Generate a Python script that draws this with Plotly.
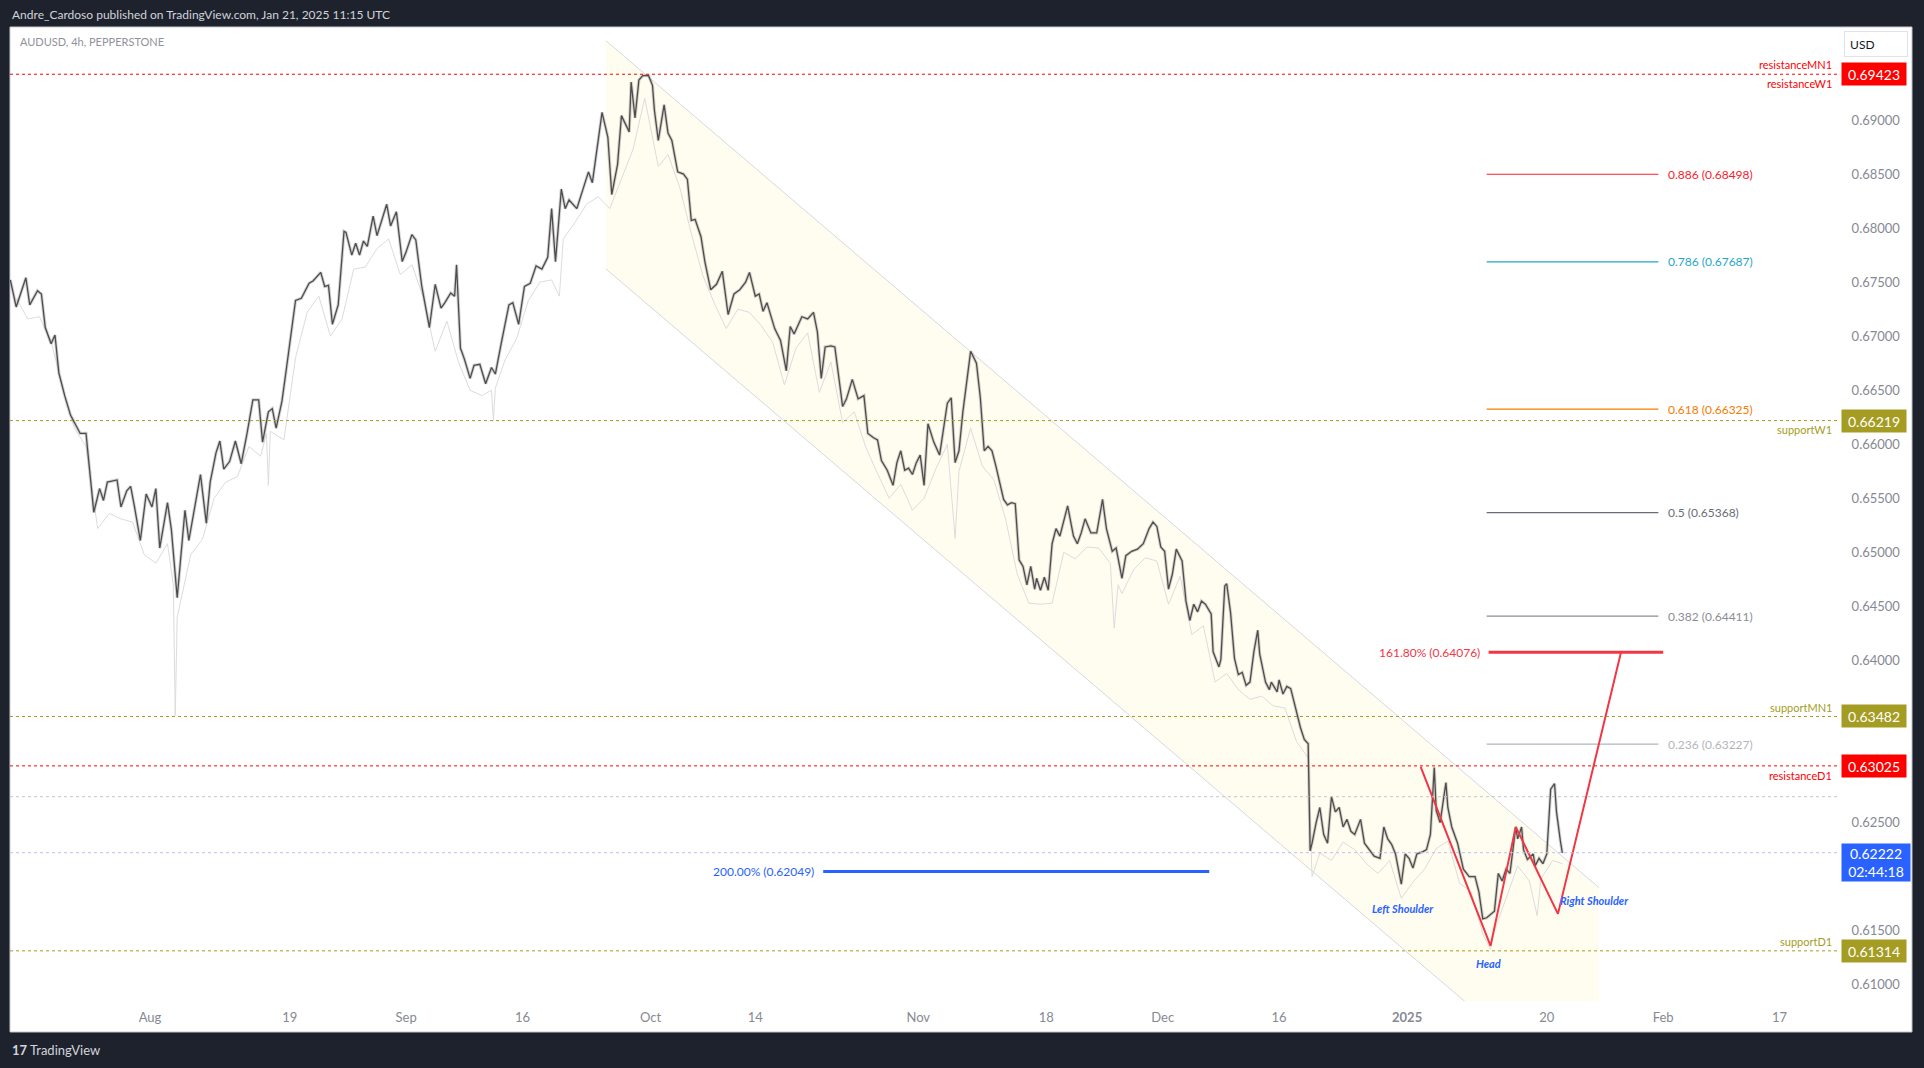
import plotly.graph_objects as go

# ---------------- data ----------------
hl_time = [
"2024-07-16 00:00","2024-07-16 12:00","2024-07-17 08:00","2024-07-17 16:00","2024-07-18 08:00","2024-07-18 16:00",
"2024-07-19 00:00","2024-07-19 12:00","2024-07-19 20:00","2024-07-22 04:00","2024-07-22 16:00","2024-07-23 04:00",
"2024-07-24 00:00","2024-07-24 12:00","2024-07-25 04:00","2024-07-25 16:00","2024-07-26 00:00","2024-07-26 08:00",
"2024-07-29 04:00","2024-07-29 12:00","2024-07-30 00:00","2024-07-30 08:00","2024-07-30 16:00","2024-07-31 04:00",
"2024-07-31 16:00","2024-08-01 04:00","2024-08-01 12:00","2024-08-01 20:00","2024-08-02 12:00","2024-08-02 20:00",
"2024-08-05 08:00","2024-08-06 00:00","2024-08-06 08:00","2024-08-06 20:00","2024-08-07 08:00","2024-08-07 20:00",
"2024-08-08 04:00","2024-08-08 16:00","2024-08-09 00:00","2024-08-09 08:00","2024-08-09 20:00","2024-08-12 08:00",
"2024-08-12 20:00","2024-08-13 08:00","2024-08-13 20:00","2024-08-14 08:00","2024-08-14 16:00","2024-08-15 04:00",
"2024-08-15 12:00","2024-08-15 20:00","2024-08-16 08:00","2024-08-16 16:00","2024-08-19 00:00","2024-08-19 12:00",
"2024-08-20 00:00","2024-08-20 16:00","2024-08-21 00:00","2024-08-21 16:00","2024-08-22 00:00","2024-08-22 08:00",
"2024-08-22 16:00","2024-08-23 04:00","2024-08-23 16:00","2024-08-23 20:00","2024-08-26 08:00","2024-08-26 16:00",
"2024-08-27 00:00","2024-08-27 08:00","2024-08-27 16:00","2024-08-28 04:00","2024-08-28 12:00","2024-08-28 20:00",
"2024-08-29 08:00","2024-08-29 16:00","2024-08-30 04:00","2024-08-30 16:00","2024-09-02 00:00","2024-09-02 12:00",
"2024-09-02 20:00","2024-09-03 08:00","2024-09-04 00:00","2024-09-04 12:00","2024-09-05 00:00","2024-09-05 08:00",
"2024-09-05 20:00","2024-09-06 04:00","2024-09-06 08:00","2024-09-06 16:00","2024-09-09 00:00","2024-09-09 12:00",
"2024-09-09 20:00","2024-09-10 08:00","2024-09-10 20:00","2024-09-11 08:00","2024-09-11 16:00","2024-09-12 04:00",
"2024-09-12 20:00","2024-09-13 04:00","2024-09-13 16:00","2024-09-16 04:00","2024-09-16 16:00","2024-09-17 04:00",
"2024-09-17 16:00","2024-09-18 04:00","2024-09-18 12:00","2024-09-18 20:00","2024-09-19 08:00","2024-09-19 16:00",
"2024-09-20 00:00","2024-09-20 16:00","2024-09-23 04:00","2024-09-23 16:00","2024-09-24 00:00","2024-09-24 08:00",
"2024-09-24 20:00","2024-09-25 08:00","2024-09-25 16:00","2024-09-26 04:00","2024-09-26 12:00","2024-09-27 04:00",
"2024-09-27 08:00","2024-09-27 16:00","2024-09-30 00:00","2024-09-30 08:00","2024-09-30 20:00","2024-10-01 04:00",
"2024-10-01 08:00","2024-10-01 16:00","2024-10-02 04:00","2024-10-02 12:00","2024-10-02 20:00","2024-10-03 08:00",
"2024-10-03 20:00","2024-10-04 04:00","2024-10-04 12:00","2024-10-04 20:00","2024-10-07 08:00","2024-10-07 16:00",
"2024-10-08 04:00","2024-10-08 16:00","2024-10-09 04:00","2024-10-09 16:00","2024-10-10 04:00","2024-10-10 16:00",
"2024-10-11 04:00","2024-10-11 12:00","2024-10-14 00:00","2024-10-14 08:00","2024-10-14 16:00","2024-10-15 00:00",
"2024-10-15 16:00","2024-10-16 04:00","2024-10-16 16:00","2024-10-17 00:00","2024-10-17 08:00","2024-10-18 00:00",
"2024-10-18 12:00","2024-10-21 00:00","2024-10-21 08:00","2024-10-21 16:00","2024-10-22 00:00","2024-10-22 12:00",
"2024-10-22 20:00","2024-10-23 12:00","2024-10-23 20:00","2024-10-24 08:00","2024-10-24 20:00","2024-10-25 08:00",
"2024-10-25 16:00","2024-10-28 04:00","2024-10-28 12:00","2024-10-28 20:00","2024-10-29 08:00","2024-10-29 20:00",
"2024-10-30 04:00","2024-10-30 12:00","2024-10-30 20:00","2024-10-31 04:00","2024-10-31 12:00","2024-10-31 20:00",
"2024-11-01 04:00","2024-11-01 12:00","2024-11-01 20:00","2024-11-04 08:00","2024-11-04 20:00","2024-11-05 04:00",
"2024-11-05 12:00","2024-11-05 20:00","2024-11-06 04:00","2024-11-06 12:00","2024-11-06 20:00","2024-11-07 12:00",
"2024-11-08 00:00","2024-11-08 08:00","2024-11-08 16:00","2024-11-11 00:00","2024-11-11 08:00","2024-11-11 16:00",
"2024-11-12 00:00","2024-11-12 08:00","2024-11-12 16:00","2024-11-13 00:00","2024-11-13 08:00","2024-11-13 16:00",
"2024-11-14 00:00","2024-11-14 08:00","2024-11-14 16:00","2024-11-15 00:00","2024-11-15 04:00","2024-11-15 12:00",
"2024-11-15 20:00","2024-11-18 04:00","2024-11-18 12:00","2024-11-18 20:00","2024-11-19 04:00","2024-11-19 20:00",
"2024-11-20 08:00","2024-11-20 16:00","2024-11-21 00:00","2024-11-21 08:00","2024-11-21 20:00","2024-11-22 08:00",
"2024-11-22 20:00","2024-11-25 04:00","2024-11-25 16:00","2024-11-26 00:00","2024-11-26 12:00","2024-11-26 20:00",
"2024-11-27 08:00","2024-11-27 20:00","2024-11-28 08:00","2024-11-28 20:00","2024-11-29 04:00","2024-11-29 12:00",
"2024-11-29 20:00","2024-12-02 04:00","2024-12-02 12:00","2024-12-02 20:00","2024-12-03 04:00","2024-12-03 16:00",
"2024-12-04 00:00","2024-12-04 08:00","2024-12-04 16:00","2024-12-05 00:00","2024-12-05 08:00","2024-12-05 16:00",
"2024-12-06 04:00","2024-12-06 08:00","2024-12-06 20:00","2024-12-09 00:00","2024-12-09 08:00","2024-12-09 12:00",
"2024-12-09 20:00","2024-12-10 04:00","2024-12-10 12:00","2024-12-10 20:00","2024-12-11 04:00","2024-12-11 12:00",
"2024-12-11 20:00","2024-12-12 04:00","2024-12-12 08:00","2024-12-12 20:00","2024-12-13 04:00","2024-12-13 08:00",
"2024-12-13 20:00","2024-12-16 00:00","2024-12-16 08:00","2024-12-16 16:00","2024-12-17 00:00","2024-12-17 12:00",
"2024-12-17 20:00","2024-12-18 04:00","2024-12-18 12:00","2024-12-18 16:00","2024-12-18 20:00","2024-12-19 04:00",
"2024-12-19 12:00","2024-12-19 20:00","2024-12-20 04:00","2024-12-20 12:00","2024-12-20 20:00","2024-12-23 04:00",
"2024-12-23 12:00","2024-12-23 20:00","2024-12-24 04:00","2024-12-24 12:00","2024-12-26 00:00","2024-12-26 08:00",
"2024-12-26 16:00","2024-12-27 04:00","2024-12-27 16:00","2024-12-30 00:00","2024-12-30 08:00","2024-12-30 16:00",
"2024-12-31 00:00","2024-12-31 12:00","2024-12-31 20:00","2025-01-02 04:00","2025-01-02 12:00","2025-01-02 20:00",
"2025-01-03 08:00","2025-01-03 16:00","2025-01-06 00:00","2025-01-06 08:00","2025-01-06 12:00","2025-01-06 20:00",
"2025-01-07 08:00","2025-01-07 12:00","2025-01-07 20:00","2025-01-08 08:00","2025-01-08 20:00","2025-01-09 08:00",
"2025-01-09 20:00","2025-01-10 04:00","2025-01-10 12:00","2025-01-10 20:00","2025-01-13 12:00","2025-01-13 20:00",
"2025-01-14 04:00","2025-01-14 12:00","2025-01-14 20:00","2025-01-15 08:00","2025-01-15 12:00","2025-01-15 20:00",
"2025-01-16 00:00","2025-01-16 08:00","2025-01-16 20:00","2025-01-17 00:00","2025-01-17 08:00","2025-01-17 16:00",
"2025-01-20 00:00","2025-01-20 08:00","2025-01-20 16:00","2025-01-20 20:00","2025-01-21 04:00","2025-01-21 08:00",
]
hl_price = [
0.6752,0.6727,0.6754,0.6729,0.6742,0.6739,
0.6708,0.6693,0.6701,0.6666,0.6645,0.6627,
0.6610,0.6610,0.6537,0.6559,0.6548,0.6565,
0.6567,0.6542,0.6557,0.6561,0.6542,0.6511,
0.6554,0.6542,0.6559,0.6504,0.6546,0.6521,
0.6458,0.6539,0.6511,0.6541,0.6572,0.6527,
0.6565,0.6592,0.6603,0.6577,0.6584,0.6603,
0.6582,0.6610,0.6641,0.6641,0.6602,0.6630,
0.6633,0.6615,0.6640,0.6666,0.6693,0.6733,
0.6735,0.6749,0.6751,0.6759,0.6746,0.6747,
0.6711,0.6729,0.6797,0.6796,0.6775,0.6786,
0.6775,0.6788,0.6783,0.6811,0.6793,0.6805,
0.6822,0.6802,0.6815,0.6769,0.6778,0.6794,
0.6789,0.6747,0.6708,0.6748,0.6726,0.6731,
0.6740,0.6737,0.6766,0.6689,0.6679,0.6661,
0.6673,0.6674,0.6656,0.6671,0.6665,0.6693,
0.6729,0.6731,0.6711,0.6746,0.6749,0.6765,
0.6762,0.6773,0.6818,0.6769,0.6836,0.6818,
0.6826,0.6818,0.6836,0.6852,0.6842,0.6868,
0.6907,0.6884,0.6831,0.6859,0.6904,0.6889,
0.6935,0.6902,0.6937,0.6941,0.6941,0.6932,
0.6909,0.6881,0.6914,0.6888,0.6881,0.6852,
0.6850,0.6845,0.6807,0.6808,0.6792,0.6769,
0.6743,0.6748,0.6760,0.6720,0.6739,0.6743,
0.6750,0.6759,0.6737,0.6739,0.6723,0.6731,
0.6707,0.6696,0.6668,0.6709,0.6702,0.6718,
0.6716,0.6722,0.6704,0.6661,0.6690,0.6691,
0.6690,0.6635,0.6642,0.6660,0.6642,0.6645,
0.6610,0.6606,0.6604,0.6585,0.6576,0.6562,
0.6583,0.6594,0.6576,0.6578,0.6572,0.6583,
0.6590,0.6562,0.6619,0.6602,0.6590,0.6614,
0.6638,0.6643,0.6583,0.6594,0.6630,0.6686,
0.6675,0.6643,0.6594,0.6598,0.6594,0.6580,
0.6563,0.6549,0.6544,0.6546,0.6545,0.6493,
0.6487,0.6470,0.6487,0.6466,0.6476,0.6465,
0.6477,0.6465,0.6508,0.6522,0.6515,0.6543,
0.6515,0.6508,0.6518,0.6531,0.6518,0.6518,
0.6549,0.6522,0.6501,0.6504,0.6476,0.6497,
0.6501,0.6503,0.6508,0.6522,0.6528,0.6524,
0.6505,0.6501,0.6466,0.6480,0.6503,0.6492,
0.6455,0.6437,0.6452,0.6445,0.6455,0.6452,
0.6443,0.6408,0.6394,0.6401,0.6469,0.6471,
0.6444,0.6402,0.6387,0.6389,0.6377,0.6380,
0.6408,0.6428,0.6406,0.6380,0.6373,0.6380,
0.6371,0.6382,0.6369,0.6376,0.6374,0.6352,
0.6338,0.6327,0.6323,0.6224,0.6231,0.6249,
0.6264,0.6239,0.6231,0.6274,0.6260,0.6264,
0.6246,0.6253,0.6242,0.6239,0.6253,0.6231,
0.6226,0.6219,0.6217,0.6246,0.6235,0.6230,
0.6221,0.6193,0.6221,0.6217,0.6208,0.6221,
0.6223,0.6225,0.6239,0.6301,0.6261,0.6250,
0.6287,0.6264,0.6246,0.6231,0.6207,0.6200,
0.6200,0.6186,0.6161,0.6162,0.6168,0.6203,
0.6196,0.6207,0.6203,0.6246,0.6235,0.6246,
0.6225,0.6216,0.6221,0.6210,0.6217,0.6212,
0.6221,0.6281,0.6286,0.6260,0.6233,0.6222,
]

low_time = [
"2024-07-16 12:00","2024-07-17 12:00","2024-07-18 12:00","2024-07-19 12:00","2024-07-22 12:00","2024-07-23 12:00",
"2024-07-24 12:00","2024-07-25 12:00","2024-07-26 12:00","2024-07-29 12:00","2024-07-30 12:00","2024-07-31 12:00",
"2024-08-01 12:00","2024-08-02 12:00","2024-08-05 00:00","2024-08-05 04:00","2024-08-05 08:00","2024-08-06 12:00",
"2024-08-07 12:00","2024-08-08 12:00","2024-08-09 12:00","2024-08-12 12:00","2024-08-13 12:00","2024-08-14 12:00",
"2024-08-15 00:00","2024-08-15 04:00","2024-08-15 08:00","2024-08-16 12:00","2024-08-19 12:00","2024-08-20 12:00",
"2024-08-21 12:00","2024-08-22 12:00","2024-08-23 12:00","2024-08-26 12:00","2024-08-27 12:00","2024-08-28 12:00",
"2024-08-29 12:00","2024-08-30 12:00","2024-09-02 12:00","2024-09-03 12:00","2024-09-04 12:00","2024-09-05 12:00",
"2024-09-06 12:00","2024-09-09 12:00","2024-09-10 12:00","2024-09-11 08:00","2024-09-11 12:00","2024-09-11 16:00",
"2024-09-12 12:00","2024-09-13 12:00","2024-09-16 12:00","2024-09-17 12:00","2024-09-18 12:00","2024-09-19 04:00",
"2024-09-19 12:00","2024-09-20 12:00","2024-09-23 12:00","2024-09-24 12:00","2024-09-25 12:00","2024-09-26 12:00",
"2024-09-27 12:00","2024-09-30 12:00","2024-10-01 16:00","2024-10-02 12:00","2024-10-03 12:00","2024-10-04 12:00",
"2024-10-07 12:00","2024-10-08 12:00","2024-10-09 12:00","2024-10-10 12:00","2024-10-11 12:00","2024-10-14 12:00",
"2024-10-15 12:00","2024-10-16 12:00","2024-10-17 12:00","2024-10-18 12:00","2024-10-21 12:00","2024-10-22 12:00",
"2024-10-23 12:00","2024-10-24 12:00","2024-10-25 12:00","2024-10-28 12:00","2024-10-29 12:00","2024-10-30 12:00",
"2024-10-31 12:00","2024-11-01 12:00","2024-11-04 12:00","2024-11-05 12:00","2024-11-06 04:00","2024-11-06 12:00",
"2024-11-07 12:00","2024-11-08 12:00","2024-11-11 12:00","2024-11-12 12:00","2024-11-13 12:00","2024-11-14 12:00",
"2024-11-15 12:00","2024-11-18 12:00","2024-11-19 12:00","2024-11-20 12:00","2024-11-21 12:00","2024-11-22 12:00",
"2024-11-25 12:00","2024-11-25 20:00","2024-11-26 04:00","2024-11-26 12:00","2024-11-27 12:00","2024-11-28 12:00",
"2024-11-29 12:00","2024-12-02 12:00","2024-12-03 12:00","2024-12-04 12:00","2024-12-05 12:00","2024-12-06 12:00",
"2024-12-09 12:00","2024-12-10 12:00","2024-12-11 12:00","2024-12-12 12:00","2024-12-13 12:00","2024-12-16 12:00",
"2024-12-17 12:00","2024-12-18 12:00","2024-12-18 20:00","2024-12-19 12:00","2024-12-20 12:00","2024-12-23 12:00",
"2024-12-24 12:00","2024-12-26 12:00","2024-12-27 12:00","2024-12-30 12:00","2024-12-31 12:00","2025-01-02 12:00",
"2025-01-03 12:00","2025-01-06 12:00","2025-01-07 12:00","2025-01-08 12:00","2025-01-09 12:00","2025-01-10 12:00",
"2025-01-13 04:00","2025-01-13 12:00","2025-01-14 12:00","2025-01-15 12:00","2025-01-16 12:00","2025-01-17 04:00",
"2025-01-17 12:00","2025-01-20 12:00","2025-01-21 08:00",
]
low_price = [
0.6735,0.6716,0.6718,0.6695,0.6652,0.6615,
0.6598,0.6522,0.6536,0.6531,0.6528,0.6498,
0.6490,0.6508,0.6470,0.6349,0.6440,0.6498,
0.6512,0.6550,0.6565,0.6570,0.6598,0.6589,
0.6610,0.6562,0.6612,0.6604,0.6680,0.6722,
0.6737,0.6700,0.6716,0.6762,0.6764,0.6781,
0.6790,0.6757,0.6766,0.6735,0.6686,0.6714,
0.6676,0.6650,0.6645,0.6650,0.6622,0.6652,
0.6678,0.6698,0.6733,0.6750,0.6752,0.6737,
0.6790,0.6805,0.6822,0.6829,0.6818,0.6846,
0.6873,0.6920,0.6857,0.6868,0.6838,0.6795,
0.6756,0.6730,0.6707,0.6725,0.6722,0.6710,
0.6694,0.6655,0.6689,0.6703,0.6648,0.6676,
0.6620,0.6630,0.6597,0.6573,0.6550,0.6563,
0.6539,0.6550,0.6577,0.6600,0.6513,0.6575,
0.6615,0.6580,0.6567,0.6531,0.6480,0.6453,
0.6452,0.6453,0.6500,0.6494,0.6505,0.6504,
0.6490,0.6430,0.6470,0.6462,0.6484,0.6495,
0.6492,0.6452,0.6478,0.6424,0.6432,0.6380,
0.6388,0.6373,0.6364,0.6367,0.6358,0.6356,
0.6325,0.6310,0.6200,0.6222,0.6215,0.6232,
0.6225,0.6212,0.6203,0.6215,0.6180,0.6195,
0.6207,0.6226,0.6233,0.6194,0.6186,0.6147,
0.6133,0.6150,0.6180,0.6210,0.6196,0.6164,
0.6198,0.6215,0.6212,
]

# descending parallel channel (two anchor times; upper / lower prices)
channel_time = ["2024-09-25 04:00", "2025-01-24 12:00"]
channel_upper = [0.69733, 0.61897]
channel_lower = [0.67622, 0.59786]

# inverse head & shoulders projection
hs_time = ["2025-01-03 04:00", "2025-01-13 04:00", "2025-01-15 08:00", "2025-01-20 23:00", "2025-01-28 09:00"]
hs_price = [0.63016, 0.61360, 0.62461, 0.61656, 0.64076]
hs_labels = ["Left Shoulder", "Head", "Right Shoulder"]
hs_label_time = ["2024-12-31 16:00", "2025-01-13 00:00", "2025-01-24 03:00"]
hs_label_price = [0.61703, 0.61194, 0.61777]

# fib retracement levels
fib_ratio = ["0.886", "0.786", "0.618", "0.5", "0.382", "0.236"]
fib_price = [0.68498, 0.67687, 0.66325, 0.65368, 0.64411, 0.63227]
fib_color = ["#f7212f", "#1fa7c8", "#f57c00", "#6a6d78", "#8a8d96", "#b2b5be"]
fib_span = ["2025-01-10 20:00", "2025-01-31 14:00"]

# fib extension targets
ext_label = ["161.80%", "200.00%"]
ext_price = [0.64076, 0.62049]
ext_start = ["2025-01-13 00:00", "2024-10-21 20:00"]
ext_end = ["2025-02-03 00:00", "2024-12-06 00:00"]
ext_color = ["#f23645", "#2962ff"]

# key horizontal levels
lvl_price = [0.69423, 0.66219, 0.63482, 0.63025, 0.62740, 0.62222, 0.61314]
lvl_color = ["#ff0000", "#a59d23", "#a59d23", "#ff0000", "#c3c6ce", "#b7c3ec", "#a59d23"]
lvl_texts = [("resistanceMN1", 0.69423, 10, "#ff0000"), ("resistanceW1", 0.69423, -9, "#ff0000"),
             ("supportW1", 0.66219, -9, "#a59d23"), ("supportMN1", 0.63482, 9, "#a59d23"),
             ("resistanceD1", 0.63025, -10, "#ff0000"), ("supportD1", 0.61314, 9, "#a59d23")]

tag_price = [0.69423, 0.66219, 0.63482, 0.63025, 0.61314]
tag_color = ["#ff0000", "#a59d23", "#a59d23", "#ff0000", "#a59d23"]
last_price = 0.62222
countdown = "02:44:18"

x_tick_vals = ["2024-08-01", "2024-08-19", "2024-09-02", "2024-09-16", "2024-10-01", "2024-10-14",
               "2024-11-01", "2024-11-18", "2024-12-02", "2024-12-16", "2025-01-02", "2025-01-20",
               "2025-02-03", "2025-02-17"]
x_tick_text = ["Aug", "19", "Sep", "16", "Oct", "14", "Nov", "18", "Dec", "16",
               "<b>2025</b>", "20", "Feb", "17"]
# price-scale labels (0.62000 / 0.69500 sit under the price tags and are left out)
y_tick_vals = [0.610, 0.615, 0.625, 0.630, 0.635, 0.640, 0.645, 0.650, 0.655,
               0.660, 0.665, 0.670, 0.675, 0.680, 0.685, 0.690]

# ---------------- figure ----------------
FONT = "Lato, 'Noto Sans', sans-serif"
fig = go.Figure()

# channel fill + borders
fig.add_trace(go.Scatter(
    x=[channel_time[0], channel_time[1], channel_time[1], channel_time[0], channel_time[0]],
    y=[channel_upper[0], channel_upper[1], channel_lower[1], channel_lower[0], channel_upper[0]],
    mode="lines", fill="toself", fillcolor="rgba(255,235,59,0.08)",
    line=dict(width=0), hoverinfo="skip"))
for arr in (channel_upper, channel_lower):
    fig.add_trace(go.Scatter(x=channel_time, y=arr, mode="lines",
                             line=dict(color="#d6d8de", width=1), hoverinfo="skip"))

# price lines
fig.add_trace(go.Scatter(x=low_time, y=low_price, mode="lines",
                         line=dict(color="#dcdcdf", width=1), hoverinfo="skip"))
fig.add_trace(go.Scatter(x=hl_time, y=hl_price, mode="lines",
                         line=dict(color="rgba(150,146,140,0.40)", width=3.2), hoverinfo="skip"))
fig.add_trace(go.Scatter(x=hl_time, y=hl_price, mode="lines",
                         line=dict(color="#4d4d4f", width=1.3), hoverinfo="skip"))

# fib retracement lines
for r, p, c in zip(fib_ratio, fib_price, fib_color):
    fig.add_trace(go.Scatter(x=fib_span, y=[p, p], mode="lines",
                             line=dict(color=c, width=1.2), hoverinfo="skip"))

# extension lines
for s, e, p, c in zip(ext_start, ext_end, ext_price, ext_color):
    fig.add_trace(go.Scatter(x=[s, e], y=[p, p], mode="lines",
                             line=dict(color=c, width=3), hoverinfo="skip"))

# head & shoulders path
fig.add_trace(go.Scatter(x=hs_time, y=hs_price, mode="lines",
                         line=dict(color="#f23645", width=2), hoverinfo="skip"))

shapes = []
# white chart panel
shapes.append(dict(type="rect", xref="paper", yref="paper", x0=0, x1=1.0399, y0=-0.0318, y1=1.0,
                   fillcolor="#ffffff", line=dict(color="#c9cbd1", width=1), layer="below"))
for p, c in zip(lvl_price, lvl_color):
    shapes.append(dict(type="line", xref="paper", yref="y", x0=0, x1=1, y0=p, y1=p,
                       line=dict(color=c, width=1, dash="dot"), layer="above"))

annotations = []
# header
annotations.append(dict(xref="paper", yref="paper", x=0, y=1.0133, xanchor="left", yanchor="middle",
                        text="Andre_Cardoso published on TradingView.com, Jan 21, 2025 11:15 UTC",
                        showarrow=False, font=dict(color="#d1d4dc", size=12, family=FONT)))
annotations.append(dict(xref="paper", yref="paper", x=0.0044, y=0.9856, xanchor="left", yanchor="middle",
                        text="AUDUSD, 4h, PEPPERSTONE", showarrow=False,
                        font=dict(color="#8f929b", size=11, family=FONT)))
annotations.append(dict(xref="paper", yref="paper", x=0, y=-0.0503, xanchor="left", yanchor="middle",
                        text="<b>17</b> TradingView", showarrow=False,
                        font=dict(color="#d1d4dc", size=13, family=FONT)))
# level labels
for t, p, sh, c in lvl_texts:
    annotations.append(dict(xref="paper", yref="y", x=0.9975, y=p, yshift=sh, xanchor="right",
                            yanchor="middle", text=t, showarrow=False,
                            font=dict(color=c, size=11, family=FONT)))
# fib labels
for r, p, c in zip(fib_ratio, fib_price, fib_color):
    annotations.append(dict(x=fib_span[1], y=p, xref="x", yref="y", xanchor="left", yanchor="middle",
                            xshift=8, text=f"{r} ({p:.5f})", showarrow=False,
                            font=dict(color=c, size=12, family=FONT)))
for lab, p, s, c in zip(ext_label, ext_price, ext_start, ext_color):
    annotations.append(dict(x=s, y=p, xref="x", yref="y", xanchor="right", yanchor="middle",
                            xshift=-7, text=f"{lab} ({p:.5f})", showarrow=False,
                            font=dict(color=c, size=12, family=FONT)))
# H&S labels
for t, x, p in zip(hs_labels, hs_label_time, hs_label_price):
    annotations.append(dict(x=x, y=p, xref="x", yref="y", xanchor="center", yanchor="middle",
                            text=f"<b><i>{t}</i></b>", showarrow=False,
                            font=dict(color="#2962ff", size=11, family=FONT)))
# price tags
for p, c in zip(tag_price, tag_color):
    annotations.append(dict(xref="paper", yref="y", x=1.0011, y=p, xanchor="left", yanchor="middle",
                            text=f"{p:.5f}", showarrow=False, bgcolor=c, width=58, height=16,
                            borderpad=3, align="center",
                            font=dict(color="#ffffff", size=14, family=FONT)))
annotations.append(dict(xref="paper", yref="y", x=1.0011, y=last_price, xanchor="left", yanchor="top",
                        yshift=10, text=f"{last_price:.5f}<br>{countdown}", showarrow=False,
                        bgcolor="#2962ff", width=62, height=31, borderpad=3, align="center",
                        font=dict(color="#ffffff", size=14, family=FONT)))
# currency button
annotations.append(dict(xref="paper", yref="paper", x=1.0027, y=0.9959, xanchor="left", yanchor="top",
                        text="&nbsp;USD", showarrow=False, bgcolor="#ffffff", bordercolor="#e0e3eb",
                        borderwidth=1, width=58, height=20, borderpad=2, align="left",
                        font=dict(color="#131722", size=12, family=FONT)))

fig.update_layout(
    width=1924, height=1068,
    margin=dict(l=10, r=85, t=27, b=67),
    paper_bgcolor="#1e222d", plot_bgcolor="#ffffff",
    showlegend=False, hovermode=False,
    shapes=shapes, annotations=annotations,
    font=dict(family=FONT),
)
fig.update_xaxes(
    type="date",
    range=["2024-07-15 23:15", "2025-02-24 02:30"],
    rangebreaks=[dict(bounds=["sat", "mon"]), dict(values=["2024-12-25", "2025-01-01"])],
    tickvals=x_tick_vals, ticktext=x_tick_text,
    showgrid=False, zeroline=False, showline=False,
    ticks="outside", ticklen=4, tickcolor="rgba(0,0,0,0)",
    tickfont=dict(color="#868993", size=13, family=FONT),
)
fig.update_yaxes(
    side="right", range=[0.6085, 0.6986],
    tickvals=y_tick_vals, tickformat=".5f",
    showgrid=False, zeroline=False, showline=False,
    ticks="outside", ticklen=9, tickcolor="rgba(0,0,0,0)",
    tickfont=dict(color="#868993", size=13, family=FONT),
)

fig.write_html(
    "out.html",
    config={"displayModeBar": False, "staticPlot": True},
    post_script="document.body.style.margin='0';document.body.style.overflow='hidden';"
                "document.body.style.background='#1e222d';",
)
